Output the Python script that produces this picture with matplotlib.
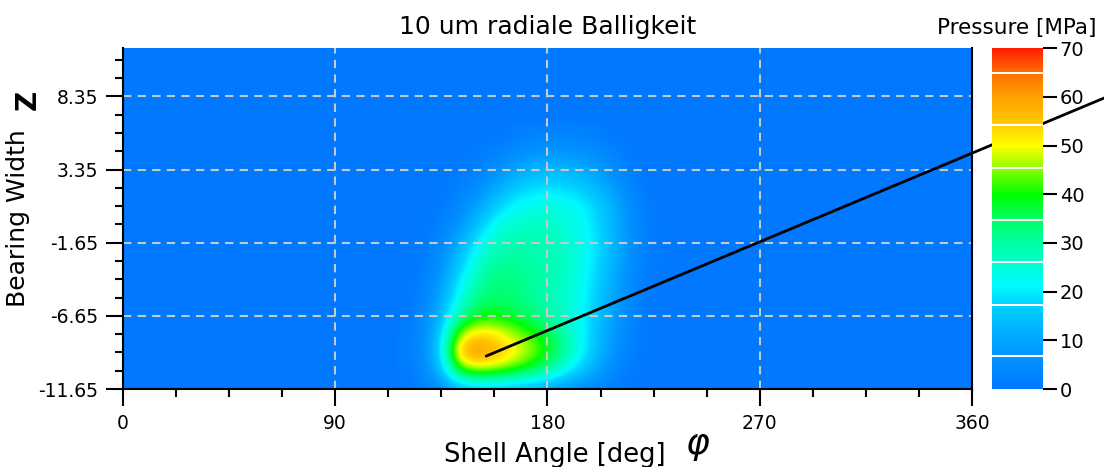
import numpy as np
import matplotlib
matplotlib.use("Agg")
import matplotlib.pyplot as plt
from matplotlib.colors import LinearSegmentedColormap

plt.rcParams["font.family"] = ["DejaVu Sans"]

# grid of pressure values (MPa)
phi_deg = [120, 127.5, 135, 142.5, 150, 157.5, 165, 172.5, 180, 187.5, 195, 202.5, 210, 217.5, 225]
z_mm = [5.85, 4.6, 3.35, 2.1, 0.85, -0.4, -1.65, -2.9, -4.15, -5.4, -6.65, -7.9, -9.15, -10.4, -11.65]
pressure = [
    [0, 0, 0, 0, 0, 0, 1, 2, 2, 2, 2, 1, 0, 0, 0],
    [0, 0, 0, 0, 1, 2, 4, 6, 7, 7, 6, 4, 2, 0, 0],
    [0, 0, 0, 1, 2, 5, 9, 12, 13, 13, 11, 8, 4, 1, 0],
    [0, 0, 0, 2, 5, 10, 15, 18, 19, 18, 16, 12, 7, 2, 0],
    [0, 0, 1, 4, 9, 16, 21, 23, 24, 23, 21, 16, 10, 4, 0],
    [0, 0, 2, 7, 14, 22, 26, 27, 27, 25, 22, 17, 10, 4, 0],
    [0, 1, 4, 11, 20, 27, 29, 29, 28, 26, 23, 18, 11, 4, 1],
    [0, 1, 6, 15, 25, 30, 31, 30, 29, 27, 23, 17, 10, 4, 1],
    [0, 2, 8, 19, 29, 33, 33, 31, 29, 27, 22, 16, 9, 3, 0],
    [0, 3, 10, 23, 32, 34, 33, 31, 29, 26, 22, 15, 8, 3, 0],
    [0, 4, 13, 29, 38, 39, 37, 34, 30, 26, 21, 14, 7, 2, 0],
    [1, 5, 16, 46, 54, 52, 47, 42, 37, 29, 21, 13, 6, 2, 0],
    [1, 5, 18, 59, 63, 59, 53, 47, 40, 31, 21, 12, 5, 1, 0],
    [1, 4, 14, 40, 46, 45, 41, 37, 31, 23, 15, 9, 3, 1, 0],
    [0, 2, 5, 10, 12, 12, 11, 10, 8, 6, 4, 2, 1, 0, 0],
]
peak = (154, -9.4)

x_ticks = [0, 90, 180, 270, 360]
y_ticks = [-11.65, -6.65, -1.65, 3.35, 8.35]
cbar_ticks = [0, 10, 20, 30, 40, 50, 60, 70]
band_edges = [6.7, 17.3, 26.1, 34.8, 45.4, 54.3, 64.9]

stops = [
    (0, (0, 120, 255)), (6.7, (0, 148, 255)), (12, (0, 178, 255)),
    (17.3, (0, 210, 255)), (21, (0, 250, 255)), (26, (0, 255, 205)),
    (30, (0, 255, 165)), (35, (0, 255, 95)), (40, (0, 255, 0)),
    (45, (130, 255, 0)), (50, (255, 255, 0)), (55, (255, 200, 0)),
    (60, (255, 160, 0)), (65, (255, 110, 0)), (70, (255, 30, 0)),
]
cmap = LinearSegmentedColormap.from_list(
    "press", [(v / 70, tuple(c / 255 for c in rgb)) for v, rgb in stops])
cmap.set_under(cmap(0.0))

fig = plt.figure(figsize=(11.04, 4.67), dpi=100)
ax = fig.add_axes([0.1114, 0.167, 0.769, 0.730])
cax = fig.add_axes([0.8986, 0.167, 0.0462, 0.730])

ax.set_facecolor(cmap(0.0))
data = np.array(pressure, dtype=float)
dphi = phi_deg[1] - phi_deg[0]
dz = z_mm[0] - z_mm[1]
im = ax.imshow(data, cmap=cmap, vmin=0, vmax=70, interpolation="bicubic",
               extent=[phi_deg[0] - dphi / 2, phi_deg[-1] + dphi / 2,
                       z_mm[-1] - dz / 2, z_mm[0] + dz / 2],
               aspect="auto", zorder=1)

ax.set_xlim(0, 360)
ax.set_ylim(-11.65, 11.65)
ax.set_xticks(x_ticks)
ax.set_yticks(y_ticks)
ax.set_yticklabels([f"{v:.2f}" for v in y_ticks])
ax.set_xticks(np.arange(0, 361, 22.5), minor=True)
ax.set_yticks(np.arange(-11.65, 11.7, 1.25), minor=True)
ax.tick_params(which="major", length=12, width=1.5, labelsize=13.5, pad=6)
ax.tick_params(which="minor", length=6, width=1.5)
for v in x_ticks[1:-1]:
    ax.axvline(v, color="#c8c8c8", linestyle=(0, (4, 3)), lw=1.5, zorder=2)
for v in y_ticks[1:]:
    ax.axhline(v, color="#c8c8c8", linestyle=(0, (4, 3)), lw=1.5, zorder=2)
for s in ["left", "bottom", "right"]:
    ax.spines[s].set_linewidth(1.5)
ax.spines["top"].set_visible(False)

ax.set_title("10 um radiale Balligkeit", fontsize=18, pad=10)
ax.set_xlabel("Shell Angle [deg]", fontsize=18.5, labelpad=1)
ax.xaxis.set_label_coords(0.509, -0.155)
ax.set_ylabel("Bearing Width", fontsize=18, labelpad=6)
fig.text(0.632, 0.045, r"$\varphi$", fontsize=26, ha="center", va="center",
         family="DejaVu Serif", style="italic")
fig.text(0.025, 0.785, "Z", fontsize=20, fontweight="bold", rotation=90,
         ha="center", va="center")

ax.annotate("", xy=peak, xycoords="data", xytext=(1.0, 0.79),
            textcoords="figure fraction",
            arrowprops=dict(arrowstyle="-", color="black", lw=2,
                            shrinkA=0, shrinkB=0), zorder=5, annotation_clip=False)

cb = fig.colorbar(im, cax=cax, ticks=cbar_ticks)
cb.outline.set_visible(False)
for b in band_edges:
    cax.axhline(b, color="white", lw=1.5)
cax.tick_params(length=10, width=1.5, labelsize=14, pad=2)
fig.text(0.921, 0.94, "Pressure [MPa]", fontsize=15.5, ha="center", va="center")

fig.savefig("out.png", dpi=100)
